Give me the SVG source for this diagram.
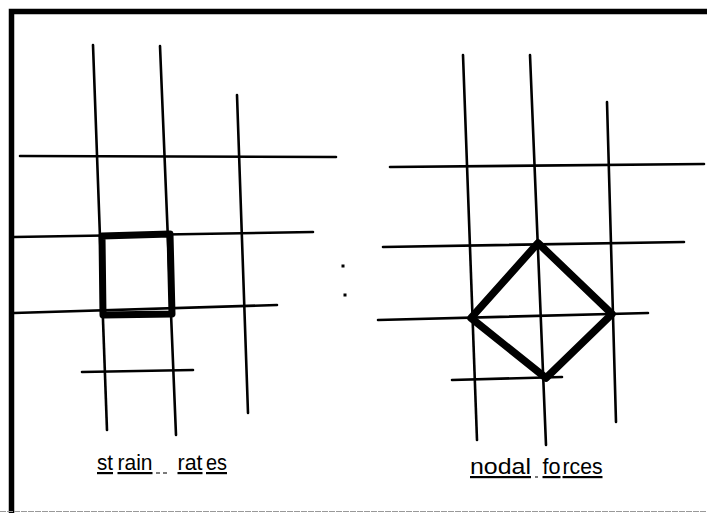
<svg xmlns="http://www.w3.org/2000/svg" width="707" height="513" viewBox="0 0 707 513">
<style>
.g{stroke:#000;stroke-width:2.6;fill:none;stroke-linecap:round}
.b{stroke:#000;stroke-width:7;fill:none;stroke-linejoin:round}
.d{stroke:#000;stroke-width:7.5;fill:none;stroke-linejoin:round}
.t{font-family:"Liberation Sans",Arial,sans-serif;font-size:22px;fill:#000;text-decoration:underline}
.u{stroke:#333;stroke-width:1.3}
</style>
<rect width="707" height="513" fill="#fff"/>
<g id="frame">
<path d="M11.5 513 V11.5 H707" stroke="#000" stroke-width="5.5" fill="none"/>
<line x1="0" y1="511.5" x2="707" y2="511.5" stroke="#999" stroke-width="1.2" stroke-dasharray="6 1"/>
</g>
<g id="left-grid">
<line class="g" x1="93" y1="45" x2="107" y2="430"/>
<line class="g" x1="160" y1="46" x2="176" y2="435"/>
<line class="g" x1="237" y1="95" x2="248" y2="413"/>
<line class="g" x1="20" y1="156" x2="336" y2="157"/>
<line class="g" x1="14" y1="237" x2="313" y2="232"/>
<line class="g" x1="14" y1="313" x2="277" y2="305"/>
<line class="g" x1="82" y1="372" x2="193" y2="370"/>
</g>
<g id="strain-cell">
<path class="b" d="M102 236 L170 234 L172 314 L103 315 Z"/>
</g>
<g id="right-grid">
<line class="g" x1="463" y1="55" x2="477" y2="440"/>
<line class="g" x1="530" y1="55" x2="546" y2="445"/>
<line class="g" x1="607" y1="102" x2="616" y2="422"/>
<line class="g" x1="390" y1="167" x2="704" y2="164"/>
<line class="g" x1="383" y1="247" x2="684" y2="242"/>
<line class="g" x1="378" y1="320" x2="648" y2="313"/>
<line class="g" x1="452" y1="380" x2="562" y2="377"/>
</g>
<g id="force-diamond">
<path class="d" d="M538 243 L612 314 L546 378 L471 318 Z"/>
</g>
<g id="dots">
<rect x="341.5" y="264.5" width="3" height="3" fill="#000"/>
<rect x="343.5" y="293.5" width="3" height="3" fill="#000"/>
</g>
<g id="label-strain">
<text class="t" x="97" y="470" textLength="16" lengthAdjust="spacingAndGlyphs">st</text>
<text class="t" x="117.5" y="470" textLength="35" lengthAdjust="spacingAndGlyphs">rain</text>
<line class="u" x1="156" y1="473" x2="160" y2="473"/>
<line class="u" x1="163" y1="473" x2="167" y2="473"/>
<text class="t" x="177.5" y="470" textLength="25" lengthAdjust="spacingAndGlyphs">rat</text>
<text class="t" x="206" y="470" textLength="21" lengthAdjust="spacingAndGlyphs">es</text>
</g>
<g id="label-nodal">
<text class="t" x="470" y="474" textLength="61" lengthAdjust="spacingAndGlyphs">nodal</text>
<line class="u" x1="535" y1="477" x2="538" y2="477"/>
<text class="t" x="542.5" y="474" textLength="18" lengthAdjust="spacingAndGlyphs">fo</text>
<text class="t" x="562.5" y="474" textLength="40" lengthAdjust="spacingAndGlyphs">rces</text>
</g>
</svg>
